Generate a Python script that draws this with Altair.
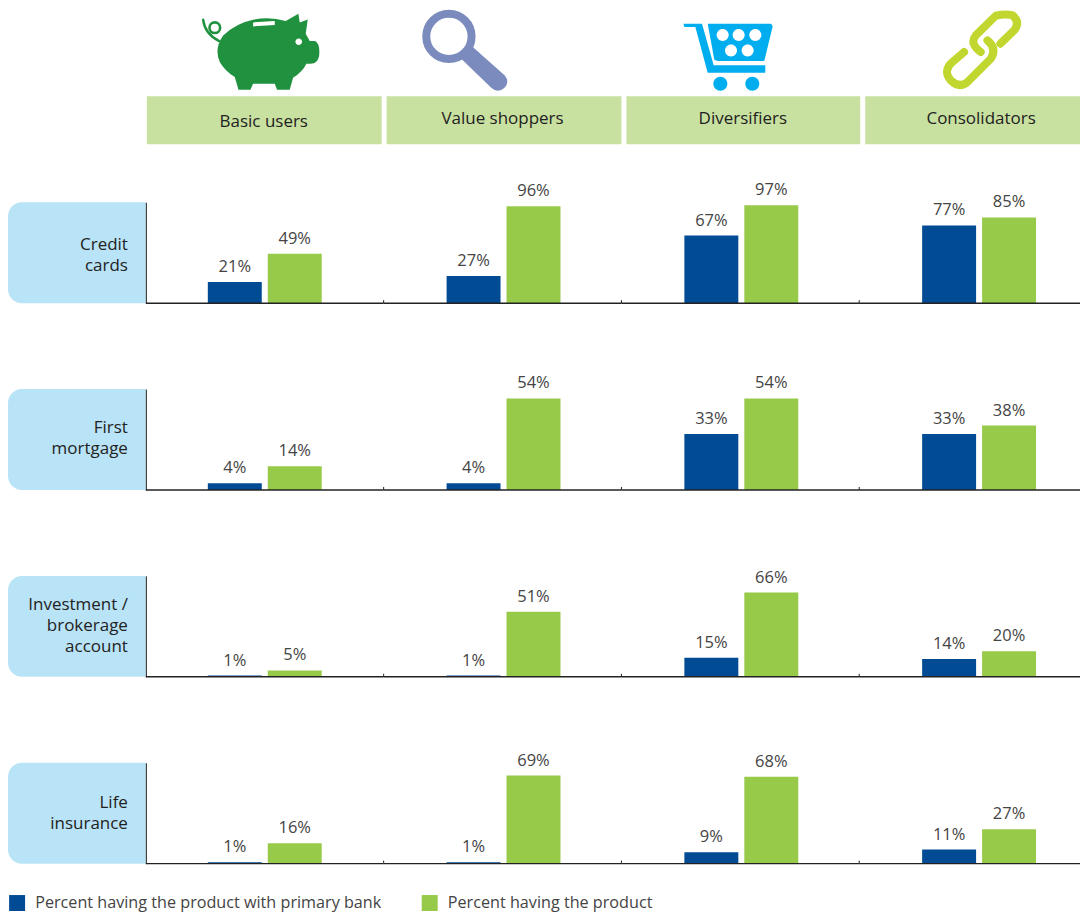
import altair as alt
import pandas as pd

segments = ["Basic users", "Value shoppers", "Diversifiers", "Consolidators"]
products = ["Credit\ncards", "First\nmortgage", "Investment /\u00a0\nbrokerage\naccount", "Life\ninsurance"]
series = ["Percent having the product with primary bank", "Percent having the product"]
primary_bank = [[21, 27, 67, 77], [4, 4, 33, 33], [1, 1, 15, 14], [1, 1, 9, 11]]
having_product = [[49, 96, 97, 85], [14, 54, 54, 38], [5, 51, 66, 20], [16, 69, 68, 27]]
y_max = [100, 59.5, 79, 79]

FONT = "Open Sans"
NAVY = "#004b93"
GREEN = "#97ca49"
HEAD = "#c9e1a0"
SIDE = "#b9e3f6"
PANEL = 238
LAST_PANEL = 221
LABEL_W = 138
BAR_ZONE = 101     # height of the bar area of one row
ROW_STEP = 187     # bar area plus the white gap above it
TOP_H = 108
BAR_SHIFT = [0, 1, 1, 1]
FIRST_LINE = [43, 39, 29, 40]

one = pd.DataFrame({"a": [0]})


def circle(cx, cy, r):
    return f"M{cx-r},{cy}A{r},{r} 0 1,0 {cx+r},{cy}A{r},{r} 0 1,0 {cx-r},{cy}Z"


def icon(path, dx, color, stroke=None):
    """Path written in 3x zoomed pixels; size 4/9 scales it back by one third."""
    if stroke:
        mark = alt.Chart(one).mark_point(shape=path, size=4 / 9, filled=False, stroke=color,
                                         strokeWidth=stroke, strokeCap="round", strokeJoin="round", opacity=1)
    else:
        mark = alt.Chart(one).mark_point(shape=path, size=4 / 9, filled=True, fill=color, stroke=None, opacity=1)
    return mark.encode(x=alt.value(dx), y=alt.value(PATH_Y))


# the path coordinates are zoom-crop pixels: y needs -8 for the page margin
PATH_Y = -8

PIG = "#20923f"
pig_body = ("M100,105 Q140,68 190,58 Q240,48 288,62 L326,40 L330,66 L354,57 L348,100 L360,122 L376,122 "
            "Q389,128 389,155 Q389,190 362,190 L350,190 Q338,215 310,232 L300,268 L262,268 L255,250 "
            "L190,250 L182,268 L146,268 L135,230 Q105,212 90,185 Q72,145 100,105Z")
lens = "M710,108A68,68 0 1,0 846,108A68,68 0 1,0 710,108Z"
handle = "M848,138 L945,225 Q962,245 945,262 Q925,280 905,262 L815,175Z"
cart_frame = "M72,70 L128,70 L163,195 L318,195 L318,217 L145,217 L108,80 L75,80Z"
cart_basket = "M145,70 L336,70 L340,78 L315,182 L175,182 L165,178Z"
link_a = "M1024,130 L1065,90 Q1085,65 1060,44 Q1035,40 1010,46 L950,105 Q930,130 965,155"
link_b = "M985,120 Q1015,145 995,175 L925,245 Q900,265 875,240 Q850,210 880,185 L915,155"

icons = [
    [
        (pig_body, 44, PIG, None),
        ("M40,58 Q45,100 88,122", 44, PIG, 2.4),
        (circle(75, 82, 16), 44, PIG, 2.6),
        (circle(327, 124, 10), 44, "white", None),
        ("M190,66 L255,62 L255,74 L190,78Z", 44, "white", None),
    ],
    [
        (lens, -194, "#7b8bbd", 8),
        (handle, -194, "#7b8bbd", None),
    ],
    [
        (cart_frame, 38, "#00aeef", None),
        (cart_basket, 38, "#00aeef", None),
        (circle(183, 250, 21), 38, "#00aeef", None),
        (circle(279, 250, 21), 38, "#00aeef", None),
    ] + [(circle(cx, cy, 18), 38, "white", None)
         for cx, cy in [(190, 104), (238, 104), (288, 104), (215, 150), (265, 150)]],
    [
        (link_a, -200, "#c1d72f", 8),
        (link_b, -200, "#c1d72f", 8),
    ],
]

head_geo = [(1, 236, 118, 114), (3, 238, 119, 111), (5, 239, 121.5, 111), (6, 221, 122, 111)]


def top_cell(s):
    x0, x1, tx, ty = head_geo[s]
    parts = [icon(p, dx, c, w) for p, dx, c, w in icons[s]]
    parts.append(alt.Chart(one).mark_rect(color=HEAD).encode(
        x=alt.value(x0), x2=alt.value(x1), y=alt.value(88), y2=alt.value(136)))
    parts.append(alt.Chart(pd.DataFrame({"t": [segments[s]]})).mark_text(
        font=FONT, fontSize=17, fontWeight=500, color="#222222", baseline="middle", align="center"
    ).encode(text="t:N", x=alt.value(tx), y=alt.value(ty)))
    w = LAST_PANEL if s == 3 else PANEL
    return alt.layer(*parts).properties(width=w, height=TOP_H)


blank = alt.Chart(one).mark_rect(opacity=0).encode(
    x=alt.value(0), x2=alt.value(1), y=alt.value(0), y2=alt.value(1)
).properties(width=LABEL_W, height=TOP_H)

color_scale = alt.Scale(domain=series, range=[NAVY, GREEN])
legend = alt.Legend(title=None, orient="none", legendX=1, legendY=887, direction="horizontal", columns=2,
                    symbolType="square", symbolSize=256, symbolStrokeWidth=0, labelFont=FONT, labelFontSize=16.2,
                    labelColor="#444444", columnPadding=40, labelOffset=10, padding=0, labelLimit=500)


def panel(p, s):
    df = pd.DataFrame({"series": series, "value": [primary_bank[p][s], having_product[p][s]]})
    w = LAST_PANEL if s == 3 else PANEL
    d = BAR_SHIFT[s]
    x = alt.X("series:N", scale=alt.Scale(domain=series, range=[62 + d, 176 + d], paddingInner=0.1, paddingOuter=0),
              axis=None)
    y = alt.Y("value:Q", scale=alt.Scale(domain=[0, y_max[p]], nice=False, range=[ROW_STEP, ROW_STEP - BAR_ZONE]),
              axis=alt.Axis(title=None, labels=False, ticks=False, grid=False, domain=s == 0,
                            domainColor="#222222", domainWidth=1, zindex=1))
    bars = alt.Chart(df).mark_bar().encode(
        x=x, y=y, color=alt.Color("series:N", scale=color_scale, legend=legend))
    text = alt.Chart(df).transform_calculate(label="datum.value + '%'").mark_text(
        font=FONT, fontSize=16.5, color="#444444", baseline="bottom", dy=-7
    ).encode(x=x, y=y, text="label:N")
    base = alt.Chart(one).mark_rule(color="#222222", strokeWidth=1.5).encode(
        x=alt.value(0), x2=alt.value(w), y=alt.value(ROW_STEP))
    parts = [bars, text, base]
    if s > 0:
        parts.append(alt.Chart(one).mark_rule(color="#222222", strokeWidth=1).encode(
            x=alt.value(0), y=alt.value(ROW_STEP - 3), y2=alt.value(ROW_STEP)))
    return alt.layer(*parts).properties(width=w, height=ROW_STEP)


def side(p):
    top = ROW_STEP - BAR_ZONE
    box = alt.Chart(one).mark_rect(color=SIDE, cornerRadiusTopLeft=14, cornerRadiusBottomLeft=14).encode(
        x=alt.value(0), x2=alt.value(LABEL_W), y=alt.value(top), y2=alt.value(ROW_STEP))
    lab = alt.Chart(pd.DataFrame({"t": [products[p]]})).mark_text(
        font=FONT, fontSize=17, fontWeight=500, color="#222222", align="right", baseline="middle",
        lineBreak="\n", lineHeight=21
    ).encode(text="t:N", x=alt.value(120), y=alt.value(top + FIRST_LINE[p]))
    return alt.layer(box, lab).properties(width=LABEL_W, height=ROW_STEP)


cells = [blank] + [top_cell(s) for s in range(4)]
for p in range(4):
    cells.append(side(p))
    cells.extend(panel(p, s) for s in range(4))

chart = alt.concat(*cells, columns=5, spacing=0, bounds="flush", align="each").properties(
    padding={"left": 0, "top": 0, "right": 0, "bottom": 3}).configure_view(stroke=None).configure_axis(grid=False)
chart.save("out.html", embed_options={"renderer": "svg", "actions": False})
